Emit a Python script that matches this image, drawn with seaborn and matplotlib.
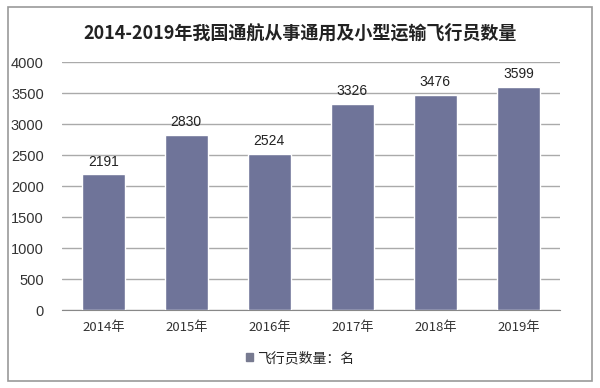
import matplotlib.pyplot as plt
import matplotlib.patches as mpatches
import numpy as np
import pandas as pd
import seaborn as sns

years = ['2014年', '2015年', '2016年', '2017年', '2018年', '2019年']
pilots = [2191, 2830, 2524, 3326, 3476, 3599]
yticks = [0, 500, 1000, 1500, 2000, 2500, 3000, 3500, 4000]

df = pd.DataFrame({'year': years, 'value': pilots})

sns.set_style('white')
plt.rcParams['font.family'] = ['Noto Sans CJK SC', 'DejaVu Sans']

fig = plt.figure(figsize=(6, 3.88), dpi=100)
ax = fig.add_axes([0.103, 0.201, 0.830, 0.639])

bar_color = '#6f7499'
sns.barplot(data=df, x='year', y='value', color=bar_color, width=0.52,
            saturation=1, ax=ax, zorder=3)

for i, v in enumerate(pilots):
    ax.text(i, v + 90, str(v), ha='center', va='bottom', fontsize=10,
            family=['Liberation Sans', 'DejaVu Sans'], color='#222222')

ax.set_ylim(0, 4000)
ax.set_xlim(-0.5, len(years) - 0.5)
ax.set_yticks(yticks)
ax.set_yticklabels([str(t) for t in yticks], family=['Liberation Sans'],
                   fontsize=10.5, color='#333333')
ax.set_xticks(range(len(years)))
ax.set_xticklabels(years, fontsize=9.5, color='#333333')
ax.tick_params(axis='x', length=0, pad=8)
ax.tick_params(axis='y', length=0, pad=13)
ax.set_xticks(np.arange(-0.5, len(years)), minor=True)
ax.tick_params(axis='x', which='minor', length=4, color='#888888', width=1)
ax.yaxis.grid(True, color='#aaaaaa', linewidth=1, zorder=0)
ax.set_axisbelow(True)
for s in ['top', 'right', 'left']:
    ax.spines[s].set_visible(False)
ax.spines['bottom'].set_color('#888888')
ax.set_xlabel('')
ax.set_ylabel('')

fig.text(0.5, 0.915, '2014-2019年我国通航从事通用及小型运输飞行员数量',
         ha='center', va='center', fontsize=13, fontweight='semibold', color='#222222')

handle = mpatches.Patch(color='#777a90', label='飞行员数量：名')
fig.legend(handles=[handle], loc='center', bbox_to_anchor=(0.5, 0.077),
           frameon=False, fontsize=10, handlelength=0.55, handleheight=0.55,
           handletextpad=0.3)

frame = mpatches.Rectangle((8 / 600, 7 / 388), 584 / 600, 374 / 388,
                           transform=fig.transFigure, fill=False,
                           edgecolor='#999999', linewidth=1.2)
fig.patches.append(frame)

plt.savefig('out.png', dpi=100)
